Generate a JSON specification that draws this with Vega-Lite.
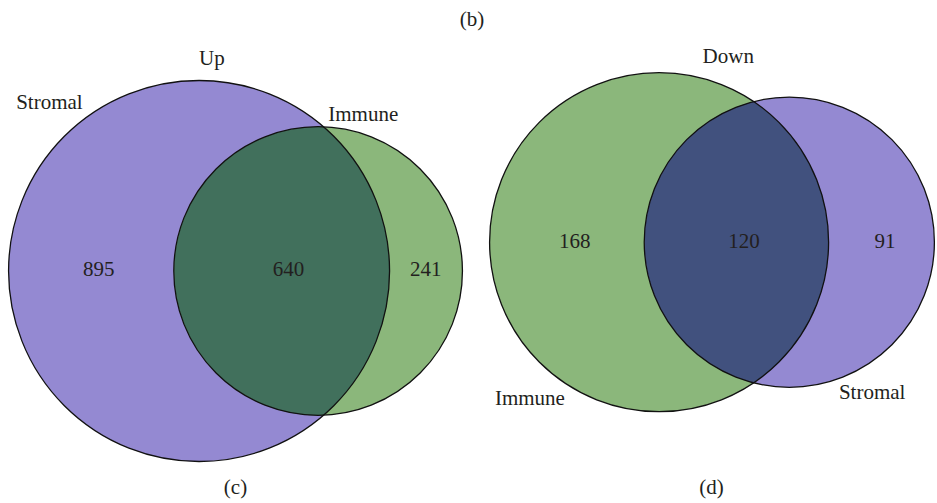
{
  "$schema": "https://vega.github.io/schema/vega-lite/v6.json",
  "width": 937,
  "height": 503,
  "autosize": {"type": "fit", "contains": "padding"},
  "padding": 0,
  "background": "white",
  "config": {"view": {"stroke": null}},
  "datasets": {
    "sets": [
      {"panel": "Up", "set": "Stromal", "total": 1535, "cx": 199.5, "cy": 271},
      {"panel": "Up", "set": "Immune", "total": 881, "cx": 318.8, "cy": 271},
      {"panel": "Down", "set": "Immune", "total": 288, "cx": 660.5, "cy": 242.2},
      {"panel": "Down", "set": "Stromal", "total": 211, "cx": 791, "cy": 242.2}
    ],
    "labels": [
      {"text": "(b)", "x": 473, "y": 26},
      {"text": "Up", "x": 212.3, "y": 65},
      {"text": "Stromal", "x": 49.5, "y": 109.3},
      {"text": "Immune", "x": 364, "y": 121},
      {"text": "895", "x": 99, "y": 276},
      {"text": "640", "x": 289, "y": 276},
      {"text": "241", "x": 426.7, "y": 276},
      {"text": "(c)", "x": 236, "y": 494},
      {"text": "Down", "x": 729.8, "y": 62.7},
      {"text": "168", "x": 576, "y": 248},
      {"text": "120", "x": 745.5, "y": 248},
      {"text": "91", "x": 887, "y": 248},
      {"text": "Immune", "x": 531, "y": 405},
      {"text": "Stromal", "x": 874, "y": 399},
      {"text": "(d)", "x": 713, "y": 494}
    ]
  },
  "encoding": {
    "x": {"field": "cx", "type": "quantitative", "scale": {"domain": [0, 937], "nice": false, "zero": false}, "axis": null},
    "y": {"field": "cy", "type": "quantitative", "scale": {"domain": [0, 503], "nice": false, "zero": false, "reverse": true}, "axis": null}
  },
  "layer": [
    {
      "data": {"name": "sets"},
      "transform": [{"filter": "datum.panel === 'Up'"}],
      "mark": {"type": "point", "shape": "circle", "filled": true, "opacity": 1, "strokeWidth": 0},
      "encoding": {
        "size": {"field": "total", "type": "quantitative", "scale": {"domain": [0, 1535], "range": [0, 145161], "zero": true}, "legend": null},
        "color": {"field": "set", "type": "nominal", "scale": {"domain": ["Stromal", "Immune"], "range": ["#9489D2", "#8BB77B"]}, "legend": null}
      }
    },
    {
      "data": {"name": "sets"},
      "transform": [{"filter": "datum.panel === 'Down'"}],
      "mark": {"type": "point", "shape": "circle", "filled": true, "opacity": 1, "strokeWidth": 0},
      "encoding": {
        "size": {"field": "total", "type": "quantitative", "scale": {"domain": [0, 288], "range": [0, 114921], "zero": true}, "legend": null},
        "color": {"field": "set", "type": "nominal", "scale": {"domain": ["Stromal", "Immune"], "range": ["#9489D2", "#8BB77B"]}, "legend": null}
      }
    },
    {
      "data": {"name": "sets"},
      "transform": [{"filter": "datum.panel === 'Up' && datum.set === 'Stromal'"}],
      "mark": {"type": "point", "filled": true, "opacity": 1, "size": 4, "strokeWidth": 0, "color": "#41705C",
        "shape": "M124.45,-144.23 A144.32,144.32 0 1,0 124.45,144.23 A190.5,190.5 0 0,0 124.45,-144.23 Z"}
    },
    {
      "data": {"name": "sets"},
      "transform": [{"filter": "datum.panel === 'Down' && datum.set === 'Immune'"}],
      "mark": {"type": "point", "filled": true, "opacity": 1, "size": 4, "strokeWidth": 0, "color": "#41517E",
        "shape": "M94.68,-140.59 A145.08,145.08 0 0,0 94.68,140.59 A169.5,169.5 0 0,0 94.68,-140.59 Z"}
    },
    {
      "data": {"name": "sets"},
      "transform": [{"filter": "datum.panel === 'Up'"}],
      "mark": {"type": "point", "shape": "circle", "filled": false, "opacity": 1, "stroke": "#111111", "strokeWidth": 1.3},
      "encoding": {
        "size": {"field": "total", "type": "quantitative", "scale": {"domain": [0, 1535], "range": [0, 145161], "zero": true}, "legend": null}
      }
    },
    {
      "data": {"name": "sets"},
      "transform": [{"filter": "datum.panel === 'Down'"}],
      "mark": {"type": "point", "shape": "circle", "filled": false, "opacity": 1, "stroke": "#111111", "strokeWidth": 1.3},
      "encoding": {
        "size": {"field": "total", "type": "quantitative", "scale": {"domain": [0, 288], "range": [0, 114921], "zero": true}, "legend": null}
      }
    },
    {
      "data": {"name": "labels"},
      "mark": {"type": "text", "font": "Liberation Serif", "fontSize": 21, "align": "center", "baseline": "alphabetic", "color": "#231F20"},
      "encoding": {
        "x": {"field": "x", "type": "quantitative"},
        "y": {"field": "y", "type": "quantitative"},
        "text": {"field": "text", "type": "nominal"}
      }
    }
  ],
  "resolve": {"scale": {"size": "independent"}}
}
